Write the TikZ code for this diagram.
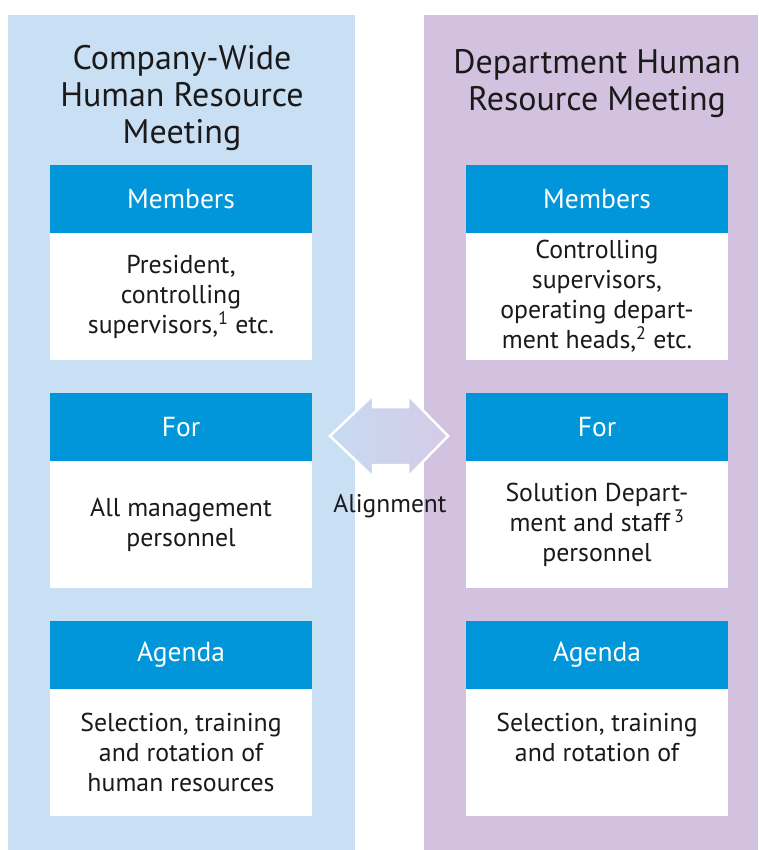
\documentclass[tikz,border=0pt]{standalone}
\usepackage{fontspec}
\setmainfont{PT Sans}
\usetikzlibrary{positioning}
\definecolor{PanelBlue}{HTML}{C9DFF4}
\definecolor{PanelViolet}{HTML}{D3C2DF}
\definecolor{HeadBlue}{HTML}{0096D9}
\definecolor{ArrowBlue}{HTML}{C6DBF1}
\definecolor{ArrowViolet}{HTML}{D5CAE6}
\definecolor{TextDark}{HTML}{1A1A1A}

\begin{document}
\begin{tikzpicture}[x=1pt,y=-1pt,
    panel/.style={minimum height=835pt,inner sep=0pt,outer sep=0pt},
    titletext/.style={align=center,text=TextDark,font=\fontsize{34}{37}\selectfont},
    headbox/.style={fill=HeadBlue,text=white,minimum width=262pt,minimum height=68pt,inner sep=0pt,outer sep=0pt,font=\fontsize{27.5}{30}\selectfont},
    bodybox/.style={fill=white,text=TextDark,align=center,minimum width=262pt,minimum height=127pt,inner sep=0pt,outer sep=0pt,font=\fontsize{25.8}{30}\selectfont}]
  \useasboundingbox (0,0) rectangle (758,850);
  % the two meetings
  \node[panel,fill=PanelBlue,minimum width=347pt] (cw) at (181.5,432.5) {};
  \node[panel,fill=PanelViolet,minimum width=334pt] (dp) at (591,432.5) {};
  \node[titletext] (cwtitle) at (182,98) {Company-Wide\\Human Resource\\Meeting};
  \node[titletext] (dptitle) at (597,84) {Department Human\\Resource Meeting};

  % left column
  \node[headbox] (memL) at (181,199) {Members};
  \node[bodybox,below=0pt of memL] (memLtxt) {President,\\controlling\\supervisors,\textsuperscript{1} etc.};
  \node[headbox] (forL) at (181,427) {For};
  \node[bodybox,below=0pt of forL] (forLtxt) {All management\\personnel};
  \node[headbox] (agL) at (181,655) {Agenda};
  \node[bodybox,below=0pt of agL] (agLtxt) {Selection, training\\and rotation of\\human resources};

  % right column
  \node[headbox] (memR) at (597,199) {Members};
  \node[bodybox,below=0pt of memR] (memRtxt) {Controlling\\supervisors,\\operating depart-\\ment heads,\textsuperscript{2} etc.};
  \node[headbox] (forR) at (597,427) {For};
  \node[bodybox,below=0pt of forR] (forRtxt) {Solution Depart-\\ment and staff\,\textsuperscript{3}\\personnel};
  \node[headbox] (agR) at (597,655) {Agenda};
  \node[bodybox,below=0pt of agR] (agRtxt) {Selection, training\\and rotation of\\\mbox{}};

  % alignment arrow
  \shadedraw[left color=ArrowBlue,right color=ArrowViolet,draw=white,line width=2.5pt,line join=miter]
    (330,436) -- (373,395) -- (373,407) -- (408,407) -- (408,395) -- (448,436)
    -- (408,477) -- (408,465) -- (373,465) -- (373,477) -- cycle;
  \node[text=TextDark,font=\fontsize{25.5}{30}\selectfont] (align) at (390,506) {Alignment};
\end{tikzpicture}
\end{document}
